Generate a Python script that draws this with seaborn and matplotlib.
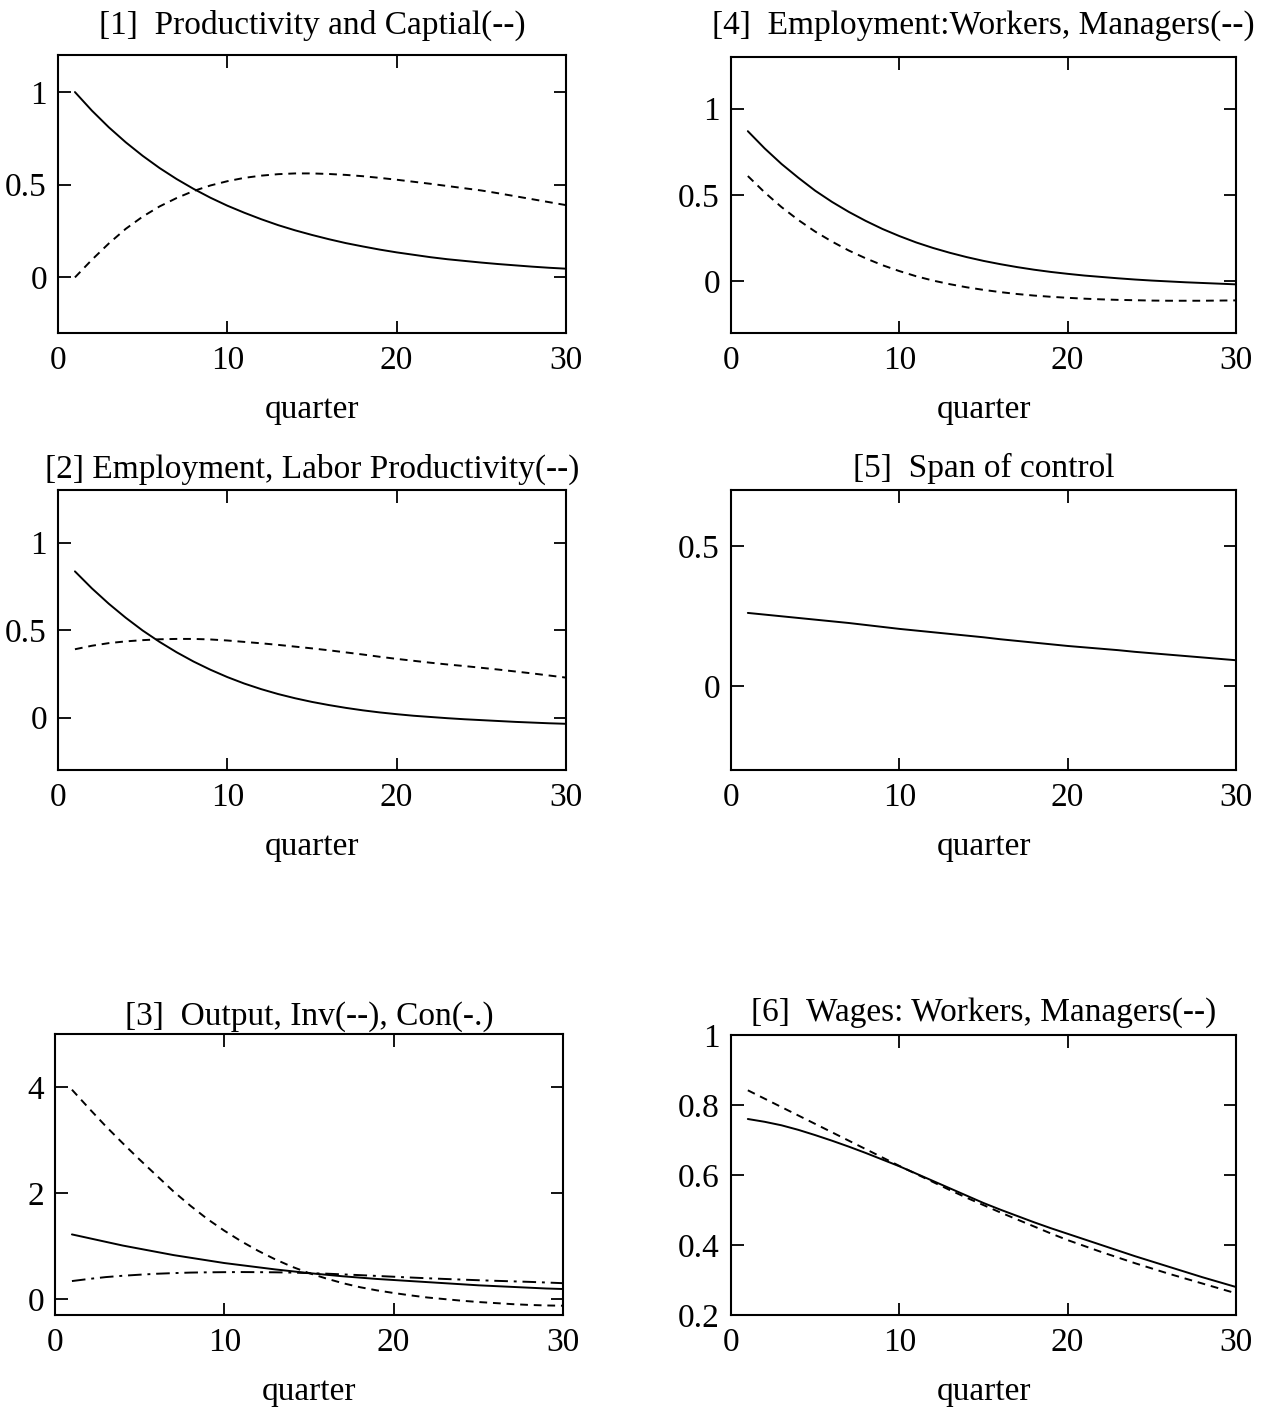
import numpy as np
import pandas as pd
import matplotlib
matplotlib.use("Agg")
import matplotlib.pyplot as plt
from matplotlib.ticker import FuncFormatter, FixedLocator
import seaborn as sns

# ---------------- data ----------------
quarters = list(range(1, 31))

# [1] Productivity and Capital
productivity = [1.000, 0.900, 0.810, 0.729, 0.656, 0.590, 0.531, 0.478, 0.430, 0.387,
                0.349, 0.314, 0.282, 0.254, 0.229, 0.206, 0.185, 0.167, 0.150, 0.135,
                0.122, 0.109, 0.098, 0.089, 0.080, 0.072, 0.065, 0.058, 0.052, 0.047]
capital = [0.000, 0.095, 0.183, 0.262, 0.328, 0.383, 0.428, 0.466, 0.496, 0.519,
           0.537, 0.549, 0.557, 0.561, 0.561, 0.558, 0.553, 0.546, 0.537, 0.527,
           0.516, 0.505, 0.493, 0.481, 0.469, 0.454, 0.438, 0.422, 0.406, 0.390]

# [2] Employment, Labor productivity
employment = [0.835, 0.738, 0.650, 0.570, 0.497, 0.432, 0.373, 0.320, 0.273, 0.231,
              0.194, 0.162, 0.134, 0.110, 0.089, 0.071, 0.055, 0.041, 0.029, 0.019,
              0.010, 0.003, -0.004, -0.010, -0.015, -0.020, -0.025, -0.029, -0.033, -0.036]
labor_prod = [0.390, 0.410, 0.425, 0.435, 0.442, 0.447, 0.449, 0.449, 0.446, 0.440,
              0.432, 0.424, 0.415, 0.405, 0.395, 0.384, 0.372, 0.360, 0.347, 0.335,
              0.324, 0.313, 0.303, 0.294, 0.284, 0.274, 0.263, 0.252, 0.240, 0.228]

# [3] Output, Investment, Consumption
output = [1.22, 1.15, 1.08, 1.01, 0.95, 0.89, 0.83, 0.78, 0.73, 0.68,
          0.64, 0.60, 0.56, 0.525, 0.49, 0.46, 0.43, 0.405, 0.38, 0.36,
          0.34, 0.32, 0.30, 0.28, 0.26, 0.245, 0.23, 0.215, 0.20, 0.19]
investment = [3.95, 3.60, 3.26, 2.94, 2.63, 2.33, 2.03, 1.76, 1.51, 1.29,
              1.09, 0.91, 0.75, 0.61, 0.49, 0.39, 0.30, 0.225, 0.165, 0.115,
              0.07, 0.03, 0.00, -0.03, -0.055, -0.075, -0.095, -0.11, -0.12, -0.125]
consumption = [0.34, 0.38, 0.415, 0.44, 0.46, 0.478, 0.49, 0.50, 0.505, 0.508,
               0.51, 0.508, 0.505, 0.50, 0.49, 0.48, 0.466, 0.452, 0.437, 0.422,
               0.407, 0.393, 0.38, 0.368, 0.356, 0.345, 0.335, 0.325, 0.313, 0.30]

# [4] Employment: Workers, Managers
emp_workers = [0.870, 0.770, 0.680, 0.600, 0.525, 0.460, 0.402, 0.350, 0.303, 0.262,
               0.225, 0.193, 0.165, 0.140, 0.118, 0.099, 0.082, 0.067, 0.054, 0.043,
               0.033, 0.025, 0.017, 0.010, 0.004, -0.001, -0.006, -0.010, -0.014, -0.018]
emp_managers = [0.610, 0.515, 0.430, 0.355, 0.288, 0.230, 0.178, 0.133, 0.093, 0.059,
                0.029, 0.004, -0.017, -0.035, -0.050, -0.063, -0.074, -0.083, -0.090, -0.096,
                -0.101, -0.105, -0.108, -0.110, -0.112, -0.113, -0.113, -0.113, -0.112, -0.111]

# [5] Span of control
span = [0.261, 0.255, 0.249, 0.243, 0.237, 0.231, 0.225, 0.218, 0.211, 0.204,
        0.198, 0.192, 0.186, 0.180, 0.174, 0.167, 0.161, 0.155, 0.149, 0.143,
        0.138, 0.133, 0.128, 0.122, 0.117, 0.112, 0.107, 0.102, 0.097, 0.092]

# [6] Wages: Workers, Managers
wage_workers = [0.760, 0.752, 0.742, 0.729, 0.714, 0.698, 0.681, 0.663, 0.644, 0.625,
                0.604, 0.583, 0.562, 0.541, 0.520, 0.501, 0.483, 0.465, 0.448, 0.432,
                0.416, 0.400, 0.384, 0.368, 0.353, 0.338, 0.323, 0.308, 0.294, 0.280]
wage_managers = [0.842, 0.818, 0.794, 0.770, 0.746, 0.722, 0.698, 0.674, 0.650, 0.626,
                 0.603, 0.580, 0.557, 0.535, 0.514, 0.493, 0.473, 0.453, 0.433, 0.414,
                 0.397, 0.380, 0.364, 0.348, 0.333, 0.318, 0.304, 0.290, 0.276, 0.262]

titles = ["[1]  Productivity and Captial(--)",
          "[2] Employment, Labor Productivity(--)",
          "[3]  Output, Inv(--), Con(-.)",
          "[4]  Employment:Workers, Managers(--)",
          "[5]  Span of control",
          "[6]  Wages: Workers, Managers(--)"]
x_ticks = [0, 10, 20, 30]
x_label = "quarter"

# ---------------- style ----------------
sns.set_style("ticks")
plt.rcParams['font.family'] = ['Liberation Serif', 'DejaVu Serif']
plt.rcParams['axes.linewidth'] = 1.5
plt.rcParams['text.color'] = 'black'
plt.rcParams['axes.labelcolor'] = 'black'
plt.rcParams['xtick.color'] = 'black'
plt.rcParams['ytick.color'] = 'black'
FS = 24

W, H = 1270, 1412
fig = plt.figure(figsize=(W / 100, H / 100), dpi=100)


def make_ax(left, top, right, bottom):
    return fig.add_axes([left / W, 1 - bottom / H, (right - left) / W, (bottom - top) / H])


SOLID = '-'
DASH = (0, (4, 3))
DASHDOT = (0, (7, 3, 1.5, 3))

panels = [
    # (box, title, series list, ylim, yticks, title pad)
    ((58, 55, 566, 333), titles[0], [(productivity, SOLID), (capital, DASH)],
     (-0.3, 1.2), [0, 0.5, 1], 15),
    ((58, 490, 566, 770), titles[1], [(employment, SOLID), (labor_prod, DASH)],
     (-0.3, 1.3), [0, 0.5, 1], 9),
    ((55, 1034, 563, 1315), titles[2], [(output, SOLID), (investment, DASH), (consumption, DASHDOT)],
     (-0.3, 5.0), [0, 2, 4], 7),
    ((731, 57, 1236, 333), titles[3], [(emp_workers, SOLID), (emp_managers, DASH)],
     (-0.3, 1.3), [0, 0.5, 1], 17),
    ((731, 490, 1236, 770), titles[4], [(span, SOLID)],
     (-0.3, 0.7), [0, 0.5], 9),
    ((731, 1035, 1236, 1315), titles[5], [(wage_workers, SOLID), (wage_managers, DASH)],
     (0.2, 1.0), [0.2, 0.4, 0.6, 0.8, 1.0], 10),
]

fmt = FuncFormatter(lambda v, p: f"{v:g}")

for box, title, series, ylim, yticks, tpad in panels:
    ax = make_ax(*box)
    for vals, ls in series:
        df = pd.DataFrame({"quarter": quarters, "value": vals})
        sns.lineplot(data=df, x="quarter", y="value", ax=ax, color="black",
                     linewidth=1.4, linestyle=ls, estimator=None)
    ax.set_xlim(0, 30)
    ax.set_ylim(*ylim)
    ax.xaxis.set_major_locator(FixedLocator(x_ticks))
    ax.yaxis.set_major_locator(FixedLocator(yticks))
    ax.xaxis.set_major_formatter(fmt)
    ax.yaxis.set_major_formatter(fmt)
    ax.tick_params(direction='in', top=True, right=True, length=9, width=1.3,
                   labelsize=FS, colors='black')
    ax.tick_params(axis='x', pad=9)
    ax.tick_params(axis='y', pad=8)
    ax.set_xlabel(x_label, fontsize=FS, labelpad=13)
    ax.set_ylabel("")
    ax.set_title(title, fontsize=FS, pad=tpad)
    for s in ax.spines.values():
        s.set_color('black')
        s.set_linewidth(1.5)

fig.savefig("out.png", dpi=100, facecolor="white")
